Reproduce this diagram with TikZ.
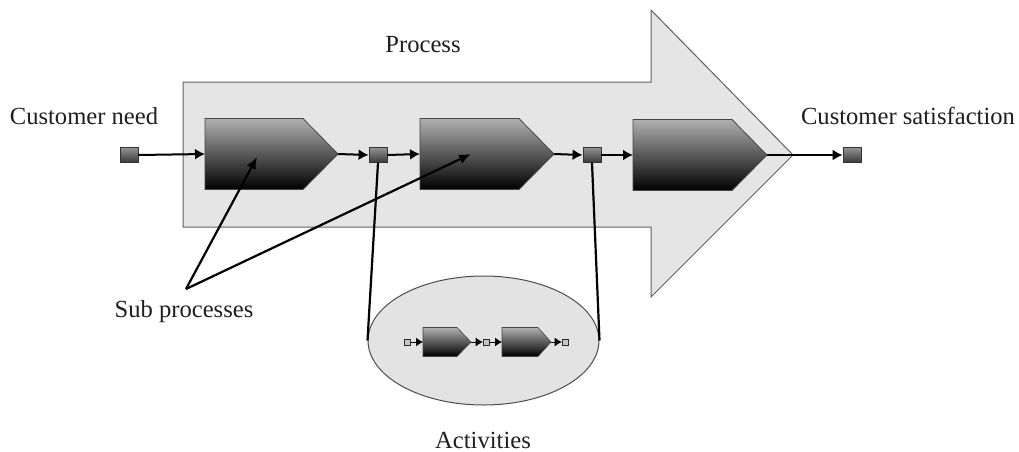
\documentclass[tikz,border=0pt]{standalone}
\usepackage{fontspec}
\setmainfont{Liberation Serif}
\usetikzlibrary{arrows.meta,shapes.geometric}

% shaded pentagon standing for a (sub)process, with named entry and exit points
% #1 name, #2 left x, #3 centre y, #4 body length, #5 half height, #6 pointer length, #7 style
\newcommand\procshape[7]{%
  \shade[#7] (#2,#3-#5) -- (#2+#4,#3-#5) -- (#2+#4+#6,#3) -- (#2+#4,#3+#5) -- (#2,#3+#5) -- cycle;
  \coordinate (#1-in) at (#2,#3);
  \coordinate (#1-out) at (#2+#4+#6,#3);
}

\begin{document}
\begin{tikzpicture}[x=0.5pt,y=-0.5pt,
  bigarrow/.style={fill=gray!20, draw=gray!75!black, line width=0.5pt},
  procbig/.style={top color=gray!62, bottom color=black, draw=gray!55!black, line width=0.4pt},
  procsmall/.style={top color=gray!62, bottom color=black, draw=gray!55!black, line width=0.3pt},
  token/.style={rectangle, inner sep=0pt, minimum width=9pt, minimum height=7.5pt,
    top color=gray!85, bottom color=gray!45!black, draw=gray!40!black, line width=0.4pt},
  minitoken/.style={rectangle, inner sep=0pt, minimum size=3pt,
    fill=gray!45, draw=gray!35!black, line width=0.3pt},
  flow/.style={line width=1pt, -{Latex[length=5pt,width=5.5pt]}},
  miniflow/.style={line width=0.5pt, -{Latex[length=3.5pt,width=4.5pt]}},
  link/.style={line width=1.1pt},
  pointer/.style={line width=1.1pt, -{Latex[length=6pt,width=5pt]}},
  lbl/.style={font=\fontsize{12.3pt}{14pt}\selectfont, text=black!88, inner sep=0pt},
]
\useasboundingbox (0,0) rectangle (1019,451);

% the overall process arrow
\path[bigarrow] (183,82) -- (651,82) -- (651,10) -- (793,155) -- (651,297)
  -- (651,227) -- (183,227) -- cycle;
\coordinate (tip) at (793,155);

% sub processes
\procshape{s1}{205}{154}{98}{35.5}{35}{procbig}
\procshape{s2}{420}{154}{99}{35.5}{35}{procbig}
\procshape{s3}{633}{155}{99}{35.5}{35}{procbig}

% tokens between the steps
\node[token] (sq1) at (129,155) {};
\node[token] (sq2) at (378,155) {};
\node[token] (sq3) at (592,155) {};
\node[token] (sq4) at (852,155) {};

\draw[flow] (sq1.east) -- (s1-in);
\draw[flow] (s1-out) -- (sq2.west);
\draw[flow] (sq2.east) -- (s2-in);
\draw[flow] (s2-out) -- (sq3.west);
\draw[flow] (sq3.east) -- (s3-in);
\draw[flow] (s3-out) -- (sq4.west);

% activities ellipse
\node[ellipse, inner sep=0pt, minimum width=115.5pt, minimum height=64.5pt,
  fill=gray!22, draw=gray!60!black, line width=0.5pt] (act) at (483.5,340.5) {};
\draw[link] (sq2.south) -- (act.west);
\draw[link] (sq3.south) -- (act.east);

% activity chain inside the ellipse
\procshape{a1}{423}{342}{34}{14.5}{14}{procsmall}
\procshape{a2}{502}{342}{36}{14.5}{13}{procsmall}
\node[minitoken] (m1) at (407.5,342) {};
\node[minitoken] (m2) at (486,342) {};
\node[minitoken] (m3) at (565,342) {};
\draw[miniflow] (m1.east) -- (a1-in);
\draw[miniflow] (a1-out) -- (m2.west);
\draw[miniflow] (m2.east) -- (a2-in);
\draw[miniflow] (a2-out) -- (m3.west);

% pointers to the sub processes
\coordinate (fork) at (186,289);
\coordinate (t1) at (257,157);
\coordinate (t2) at (471,154);
\draw[pointer] (fork) -- (t1);
\draw[pointer] (fork) -- (t2);

% labels
\node[lbl] (process) at (423,45) {Process};
\node[lbl] (need) at (84,116) {Customer need};
\node[lbl] (sat) at (908,116) {Customer satisfaction};
\node[lbl] (subs) at (184,312) {Sub processes};
\node[lbl] (acts) at (483,440) {Activities};
\end{tikzpicture}
\end{document}
